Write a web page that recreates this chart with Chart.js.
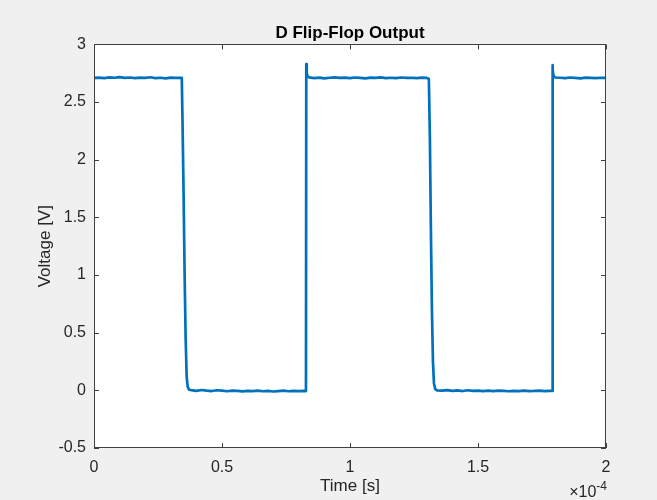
<!DOCTYPE html>
<html>
<head>
<meta charset="utf-8">
<script src="https://cdn.jsdelivr.net/npm/chart.js@4.4.0/dist/chart.umd.min.js"></script>
<style>
  html, body { margin: 0; padding: 0; background: #f0f0f0; }
  #wrap { width: 657px; height: 500px; position: relative; }
</style>
</head>
<body>
<div id="wrap"><canvas id="grafica"></canvas></div>
<script>
// tiempo en unidades de 1e-4 s, voltaje en V
const tiempo = [
  0, 0.02, 0.04, 0.06, 0.08, 0.10, 0.12, 0.14, 0.16, 0.18, 0.20, 0.22, 0.24, 0.26, 0.28, 0.30, 0.32, 0.34,
  0.343, 0.346, 0.350, 0.354, 0.358, 0.362, 0.366, 0.372,
  0.38, 0.40, 0.42, 0.44, 0.46, 0.48, 0.50, 0.52, 0.54, 0.56, 0.58, 0.60, 0.62, 0.64, 0.66, 0.68, 0.70, 0.72, 0.74, 0.76, 0.78, 0.80, 0.82, 0.828,
  0.8292, 0.830, 0.832, 0.835, 0.840,
  0.86, 0.88, 0.90, 0.92, 0.94, 0.96, 0.98, 1.00, 1.02, 1.04, 1.06, 1.08, 1.10, 1.12, 1.14, 1.16, 1.18, 1.20, 1.22, 1.24, 1.26, 1.28, 1.30,
  1.308, 1.312, 1.316, 1.320, 1.324, 1.328, 1.333, 1.34,
  1.36, 1.38, 1.40, 1.42, 1.44, 1.46, 1.48, 1.50, 1.52, 1.54, 1.56, 1.58, 1.60, 1.62, 1.64, 1.66, 1.68, 1.70, 1.72, 1.74, 1.76, 1.78, 1.790,
  1.7912, 1.792, 1.794, 1.797, 1.802,
  1.82, 1.84, 1.86, 1.88, 1.90, 1.92, 1.94, 1.96, 1.98, 2.00
];
const voltaje = [
  2.710, 2.712, 2.708, 2.714, 2.711, 2.716, 2.709, 2.713, 2.707, 2.712, 2.710, 2.715, 2.708, 2.711, 2.706, 2.712, 2.709, 2.711,
  2.700, 2.300, 1.700, 1.000, 0.450, 0.120, 0.030, 0.005,
  0.002, -0.004, 0.003, -0.002, -0.006, 0.001, -0.003, -0.008, -0.002, -0.005, -0.009, -0.004, -0.007, -0.003, -0.008, -0.005, -0.010, -0.006, -0.002, -0.008, -0.004, -0.007, -0.005, -0.006,
  2.830, 2.790, 2.745, 2.725, 2.714,
  2.708, 2.712, 2.706, 2.711, 2.714, 2.709, 2.712, 2.707, 2.713, 2.710, 2.706, 2.712, 2.709, 2.714, 2.708, 2.711, 2.707, 2.713, 2.709, 2.711, 2.708, 2.712, 2.710,
  2.700, 2.200, 1.400, 0.700, 0.250, 0.060, 0.010, 0.000,
  -0.003, 0.002, -0.005, -0.001, -0.006, 0.001, -0.004, -0.002, -0.007, -0.003, -0.006, -0.002, -0.005, -0.008, -0.004, -0.006, -0.003, -0.007, -0.005, -0.002, -0.006, -0.004, -0.005,
  2.820, 2.780, 2.740, 2.722, 2.713,
  2.711, 2.708, 2.713, 2.709, 2.706, 2.712, 2.710, 2.707, 2.711, 2.709
];
const ticksX = [0, 0.5, 1, 1.5, 2];
const ticksY = [-0.5, 0, 0.5, 1, 1.5, 2, 2.5, 3];

const FUENTE = "'Liberation Sans', Arial, Helvetica, sans-serif";
const COLOR_TXT = '#262626';

const puntos = tiempo.map((t, i) => ({ x: t, y: voltaje[i] }));

// fondo blanco del area, marco y ticks hacia adentro (estilo MATLAB)
const estiloMatlab = {
  id: 'estiloMatlab',
  beforeDatasetsDraw(chart) {
    const { ctx, chartArea: a } = chart;
    ctx.save();
    ctx.fillStyle = '#ffffff';
    ctx.fillRect(a.left, a.top, a.right - a.left, a.bottom - a.top);
    ctx.restore();
  },
  afterDraw(chart) {
    const { ctx, chartArea: a, scales } = chart;
    ctx.save();
    ctx.strokeStyle = '#404040';
    ctx.lineWidth = 1;
    ctx.strokeRect(Math.round(a.left) + 0.5, Math.round(a.top) + 0.5,
      Math.round(a.right - a.left) - 1, Math.round(a.bottom - a.top) - 1);
    ctx.beginPath();
    ticksX.forEach(v => {
      const px = Math.round(scales.x.getPixelForValue(v)) + 0.5;
      ctx.moveTo(px, a.bottom); ctx.lineTo(px, a.bottom - 5);
      ctx.moveTo(px, a.top); ctx.lineTo(px, a.top + 5);
    });
    ticksY.forEach(v => {
      const py = Math.round(scales.y.getPixelForValue(v)) + 0.5;
      ctx.moveTo(a.left, py); ctx.lineTo(a.left + 5, py);
      ctx.moveTo(a.right, py); ctx.lineTo(a.right - 5, py);
    });
    ctx.stroke();
    // exponente del eje x
    ctx.fillStyle = COLOR_TXT;
    ctx.textBaseline = 'alphabetic';
    ctx.textAlign = 'right';
    ctx.font = '12px ' + FUENTE;
    const wExp = ctx.measureText('-4').width;
    ctx.fillText('-4', a.right + 1, a.bottom + 42);
    ctx.font = '16px ' + FUENTE;
    ctx.fillText('\u00d710', a.right + 1 - wExp, a.bottom + 49);
    ctx.restore();
  }
};

new Chart(document.getElementById('grafica'), {
  type: 'line',
  data: {
    datasets: [{
      data: puntos,
      borderColor: '#0072BD',
      borderWidth: 2.7,
      borderJoinStyle: 'round',
      pointRadius: 0,
      tension: 0,
      fill: false
    }]
  },
  options: {
    responsive: true,
    maintainAspectRatio: false,
    animation: false,
    layout: { padding: { left: 0, right: 51, top: 0, bottom: 0 } },
    plugins: {
      legend: { display: false },
      tooltip: { enabled: false },
      title: {
        display: true,
        text: 'D Flip-Flop Output',
        fullSize: false,
        color: '#000000',
        font: { family: FUENTE, size: 17, weight: 'bold', lineHeight: 1.2 },
        padding: { top: 23, bottom: 1 }
      }
    },
    scales: {
      x: {
        type: 'linear',
        min: 0, max: 2,
        afterFit(s) { s.height = 52; },
        afterBuildTicks(s) { s.ticks = ticksX.map(v => ({ value: v })); },
        grid: { display: false, drawTicks: false },
        border: { display: false },
        ticks: {
          color: COLOR_TXT, padding: 10, maxRotation: 0,
          font: { family: FUENTE, size: 16 },
          callback: v => String(v)
        },
        title: {
          display: true, text: 'Time [s]', color: COLOR_TXT,
          font: { family: FUENTE, size: 17, lineHeight: 1.2 },
          padding: { top: 0, bottom: 3 }
        }
      },
      y: {
        min: -0.5, max: 3,
        afterFit(s) { s.width = 94; },
        afterBuildTicks(s) { s.ticks = ticksY.map(v => ({ value: v })); },
        grid: { display: false, drawTicks: false },
        border: { display: false },
        ticks: {
          color: COLOR_TXT, padding: 8,
          font: { family: FUENTE, size: 16 },
          callback: v => String(v)
        },
        title: {
          display: true, text: 'Voltage [V]', color: COLOR_TXT,
          font: { family: FUENTE, size: 17, lineHeight: 1.2 },
          padding: { top: 35, bottom: 0 }
        }
      }
    }
  },
  plugins: [estiloMatlab]
});
</script>
</body>
</html>
